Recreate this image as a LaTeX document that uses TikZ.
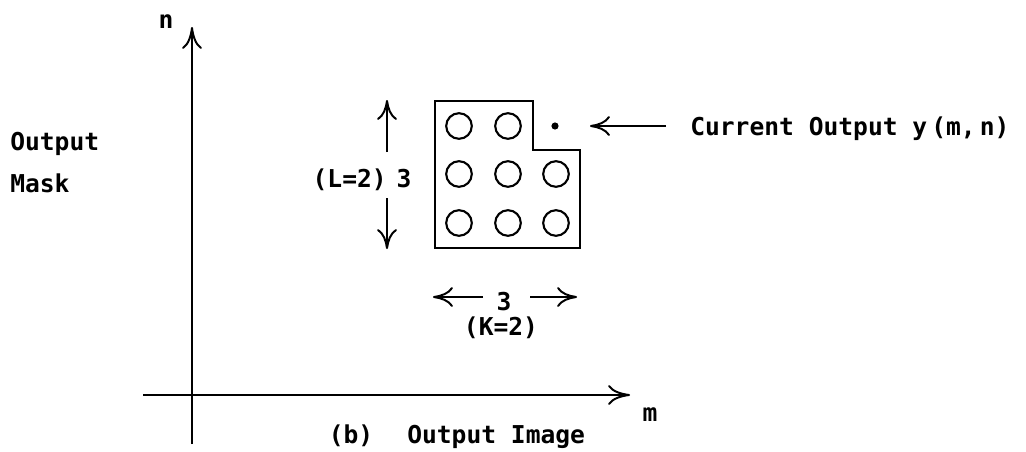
\documentclass[tikz,border=0pt]{standalone}
\usepackage{fontspec}
\setmonofont{DejaVu Sans Mono}
\usetikzlibrary{arrows.meta,positioning}

\tikzset{
  lbl/.style={font=\ttfamily\bfseries\fontsize{17.5}{20}\selectfont, inner sep=0pt},
  axis/.style={line width=1.4pt, -{Computer Modern Rightarrow[length=5.5mm,width=5mm]}},
  dim/.style={line width=1.4pt, -{Computer Modern Rightarrow[length=5mm,width=5mm]}},
  pel/.style={circle, draw, line width=1.5pt, minimum size=6.4mm, inner sep=0pt},
}

\begin{document}
\begin{tikzpicture}[x=0.25mm, y=-0.25mm]

			\useasboundingbox (0,0) rectangle (1026,451);

			% axes
			\coordinate (ybot) at (192,444);
			\coordinate (ytop) at (192,27);
			\coordinate (xlft) at (143,395);
			\coordinate (xrgt) at (630,395);
			\draw[axis] (ybot) -- (ytop);
			\draw[axis] (xlft) -- (xrgt);

			\node[lbl, anchor=base] (nlab) at (166,28) {n};
			\node[lbl, anchor=base] (mlab) at (650,421) {m};

			\node[lbl, anchor=base west] (outp) at (10,150) {Output};
			\node[lbl, anchor=base west] (mask) at (10,192) {Mask};

			\node[lbl, anchor=base] (capb) at (351,443) {(b)};
			\node[lbl, anchor=base west] (capt) at (407,443) {Output Image};

			% mask outline
			\draw[line width=1.5pt] (435,101) -- (533,101) -- (533,150) -- (580,150)
				-- (580,248) -- (435,248) -- cycle;

			\node[pel] (c11) at (459,126) {};
			\node[pel] (c12) at (508,126) {};
			\foreach \r/\y in {2/174,3/223} {
				\node[pel] (c\r1) at (459,\y) {};
				\node[pel] (c\r2) at (508,\y) {};
				\node[pel] (c\r3) at (556,\y) {};
			}
			\node[circle, fill, inner sep=1.8pt] (cur) at (555,126) {};

			% current output
			\node[lbl, anchor=base west] (curtxt) at (690,135) {Current Output y\,(m,\,n)};
			\coordinate (curtail) at (666,126);
			\coordinate (curtip) at (590,126);
			\draw[dim] (curtail) -- (curtip);

			% height
			\node[lbl, anchor=base east] (ltxt) at (387,187) {(L=2)};
			\node[lbl, anchor=base] (lnum) at (404,187) {3};
			\coordinate (lup0) at (387,152);
			\coordinate (lup1) at (387,100);
			\coordinate (ldn0) at (387,198);
			\coordinate (ldn1) at (387,249);
			\draw[dim] (lup0) -- (lup1);
			\draw[dim] (ldn0) -- (ldn1);

			% width
			\node[lbl, anchor=base] (ktxt) at (504,310) {3};
			\node[lbl, anchor=base] (kval) at (501,335) {(K=2)};
			\coordinate (kl0) at (483,297);
			\coordinate (kl1) at (433,297);
			\coordinate (kr0) at (530,297);
			\coordinate (kr1) at (577,297);
			\draw[dim] (kl0) -- (kl1);
			\draw[dim] (kr0) -- (kr1);

		\end{tikzpicture}
\end{document}
